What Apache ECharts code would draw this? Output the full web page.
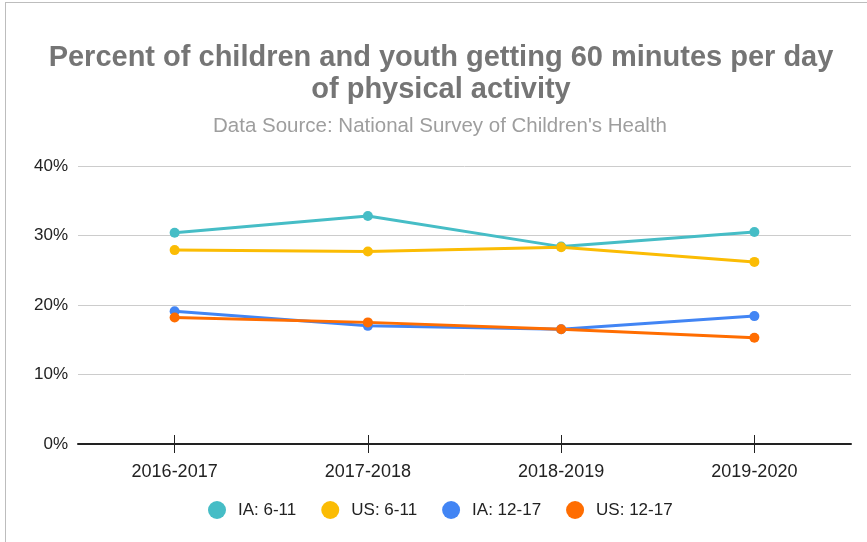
<!DOCTYPE html>
<html>
<head>
<meta charset="utf-8">
<script src="https://cdn.jsdelivr.net/npm/echarts@6/dist/echarts.min.js"></script>
<style>
html,body{margin:0;padding:0;background:#fff;}
#frame{position:absolute;left:5px;top:2px;width:862px;height:540px;border-left:1px solid #bdbdbd;border-top:1px solid #bdbdbd;}
#c{position:absolute;left:0;top:0;width:867px;height:542px;}
</style>
</head>
<body>
<div id="frame"></div>
<div id="c"></div>
<script>
const categories = ['2016-2017', '2017-2018', '2018-2019', '2019-2020'];
const ia611 = [30.4, 32.8, 28.4, 30.5];
const us611 = [27.9, 27.7, 28.3, 26.2];
const ia1217 = [19.1, 17.0, 16.5, 18.4];
const us1217 = [18.2, 17.5, 16.5, 15.3];
const yTicks = [0, 10, 20, 30, 40];

const chart = echarts.init(document.getElementById('c'), null, {renderer: 'canvas'});
const font = 'Liberation Sans, Arial, sans-serif';
function mk(name, data, color) {
  return {
    name: name, type: 'line', data: data, xAxisIndex: 0,
    symbol: 'circle', symbolSize: 10,
    lineStyle: {width: 3, color: color},
    itemStyle: {color: color},
    emphasis: {disabled: true}
  };
}
chart.setOption({
  animation: false,
  backgroundColor: 'transparent',
  title: [{
    text: 'Percent of children and youth getting 60 minutes per day\nof physical activity',
    left: 436, top: 37, textAlign: 'center',
    textStyle: {fontFamily: font, fontSize: 29, fontWeight: 'bold', color: '#757575', lineHeight: 32}
  }, {
    text: "Data Source: National Survey of Children's Health",
    left: 435, top: 111, textAlign: 'center',
    textStyle: {fontFamily: font, fontSize: 20.5, fontWeight: 'normal', color: '#9e9e9e'}
  }],
  grid: {left: 78, right: 16, top: 166, bottom: 98, containLabel: false},
  legend: {
    bottom: 23, left: 208, padding: 0, icon: 'circle', itemWidth: 18, itemHeight: 18, itemGap: 25,
    textStyle: {fontFamily: font, fontSize: 17, color: '#222', padding: [0, 0, 0, 7]},
    data: ['IA: 6-11', 'US: 6-11', 'IA: 12-17', 'US: 12-17']
  },
  xAxis: [{
    type: 'category', data: categories, boundaryGap: true,
    axisLine: {show: true, lineStyle: {color: '#222', width: 2}},
    axisTick: {show: true, alignWithLabel: true, length: 9, lineStyle: {color: '#222', width: 1}},
    axisLabel: {fontFamily: font, fontSize: 18, color: '#222', margin: 19},
    splitLine: {show: false}
  }, {
    type: 'category', data: categories, boundaryGap: true, position: 'bottom',
    axisLine: {show: false},
    axisTick: {show: true, inside: true, alignWithLabel: true, length: 9, lineStyle: {color: '#222', width: 1}},
    axisLabel: {show: false},
    splitLine: {show: false}
  }],
  yAxis: {
    type: 'value', min: 0, max: 40, interval: 10,
    axisLine: {show: false}, axisTick: {show: false},
    axisLabel: {fontFamily: font, fontSize: 17, color: '#222', margin: 10,
      formatter: v => yTicks.includes(v) ? v + '%' : ''},
    splitLine: {lineStyle: {color: '#cccccc', width: 1}}
  },
  series: [
    mk('IA: 6-11', ia611, '#46bdc6'),
    mk('US: 6-11', us611, '#fbbc04'),
    mk('IA: 12-17', ia1217, '#4285f4'),
    mk('US: 12-17', us1217, '#ff6d01')
  ]
});
</script>
</body>
</html>
